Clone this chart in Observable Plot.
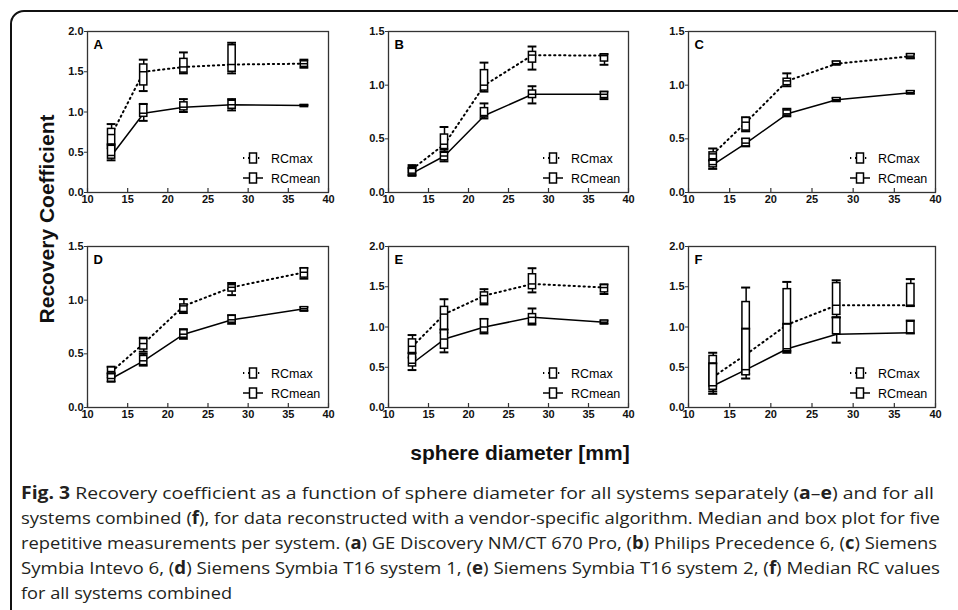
<!DOCTYPE html>
<html><head><meta charset="utf-8">
<script src="https://cdn.jsdelivr.net/npm/d3@7"></script>
<script src="https://cdn.jsdelivr.net/npm/@observablehq/plot@0.6"></script>
<style>
body{margin:0;width:958px;height:610px;overflow:hidden;background:#fff;position:relative;font-family:"Liberation Sans",Arial,sans-serif;}
#border{position:absolute;left:10px;top:10px;width:1000px;height:700px;border:2px solid #111;border-radius:14px;box-sizing:border-box;}
.panel{position:absolute;}
#ytitle{position:absolute;left:47px;top:219px;transform:translate(-50%,-50%) rotate(-90deg);font-weight:bold;font-size:21px;white-space:nowrap;color:#111;}
#xtitle{position:absolute;left:520px;top:453px;transform:translate(-50%,-50%);font-weight:bold;font-size:21px;white-space:nowrap;color:#111;}
#caption{position:absolute;left:0;top:0;}
</style></head><body>
<div id="border"></div>
<div id="charts"></div>
<div id="ytitle">Recovery Coefficient</div>
<div id="xtitle">sphere diameter [mm]</div>
<svg id="caption" width="958" height="610"></svg>
<script>
// ---- data ----
const diameters = [13, 17, 22, 28, 37];
const xTicks = [10, 15, 20, 25, 30, 35, 40];
const yTicks2 = [0, 0.5, 1.0, 1.5, 2.0];
const yTicks15 = [0, 0.5, 1.0, 1.5];
const seriesLabels = ["RCmax", "RCmean"];
const panelLetters = ["A", "B", "C", "D", "E", "F"];
// box stats per diameter: [whiskerLow, q1, median, q3, whiskerHigh]
const A_max  = [[0.55,0.57,0.72,0.79,0.85],[1.26,1.33,1.50,1.59,1.65],[1.48,1.49,1.56,1.66,1.74],[1.48,1.50,1.59,1.83,1.86],[1.55,1.56,1.60,1.63,1.65]];
const A_mean = [[0.40,0.42,0.46,0.58,0.60],[0.89,0.94,0.985,1.09,1.10],[1.00,1.02,1.06,1.12,1.16],[1.02,1.04,1.09,1.14,1.16],[1.07,1.075,1.08,1.085,1.09]];
const B_max  = [[0.165,0.18,0.22,0.235,0.255],[0.38,0.405,0.45,0.54,0.61],[0.94,0.95,1.00,1.14,1.21],[1.145,1.21,1.28,1.31,1.36],[1.19,1.22,1.275,1.285,1.29]];
const B_mean = [[0.155,0.16,0.18,0.22,0.23],[0.29,0.30,0.34,0.37,0.40],[0.69,0.70,0.717,0.786,0.83],[0.83,0.88,0.915,0.95,0.99],[0.87,0.88,0.915,0.935,0.94]];
const C_max  = [[0.30,0.31,0.36,0.374,0.41],[0.57,0.577,0.655,0.695,0.70],[0.99,1.00,1.04,1.06,1.11],[1.19,1.19,1.20,1.22,1.22],[1.25,1.25,1.27,1.29,1.29]];
const C_mean = [[0.22,0.234,0.26,0.296,0.30],[0.43,0.43,0.46,0.50,0.50],[0.71,0.717,0.733,0.764,0.78],[0.85,0.85,0.864,0.88,0.88],[0.92,0.92,0.93,0.945,0.945]];
const D_max  = [[0.28,0.295,0.335,0.373,0.38],[0.52,0.54,0.596,0.637,0.65],[0.88,0.89,0.947,0.96,1.01],[1.047,1.08,1.12,1.14,1.16],[1.20,1.21,1.26,1.295,1.30]];
const D_mean = [[0.24,0.24,0.27,0.31,0.32],[0.39,0.395,0.435,0.48,0.50],[0.64,0.65,0.683,0.72,0.73],[0.78,0.79,0.817,0.854,0.86],[0.90,0.90,0.92,0.935,0.935]];
const E_max  = [[0.62,0.67,0.76,0.846,0.90],[0.93,0.96,1.16,1.25,1.345],[1.28,1.29,1.39,1.43,1.47],[1.43,1.47,1.535,1.655,1.73],[1.41,1.43,1.49,1.52,1.53]];
const E_mean = [[0.465,0.51,0.55,0.66,0.68],[0.685,0.73,0.85,0.96,0.97],[0.92,0.93,1.00,1.095,1.10],[1.03,1.04,1.12,1.16,1.23],[1.04,1.04,1.06,1.08,1.08]];
const F_max  = [[0.20,0.26,0.50,0.64,0.68],[0.42,0.45,0.95,1.31,1.49],[0.70,1.00,1.04,1.47,1.56],[1.12,1.15,1.27,1.545,1.58],[1.26,1.26,1.27,1.535,1.595]];
const F_mean = [[0.17,0.22,0.27,0.54,0.55],[0.36,0.40,0.47,0.97,0.98],[0.68,0.70,0.73,1.03,1.04],[0.805,0.91,0.915,1.11,1.12],[0.92,0.92,0.925,1.066,1.08]];
// connecting lines (medians); panel F uses the combined medians
const F_lineMax  = [0.38, 0.66, 1.03, 1.27, 1.27];
const F_lineMean = [0.27, 0.47, 0.73, 0.91, 0.93];
const captionLines = [
  [["Fig. 3", true], [" Recovery coefficient as a function of sphere diameter for all systems separately (", false], ["a", true], ["–", false], ["e", true], [") and for all", false]],
  [["systems combined (", false], ["f", true], ["), for data reconstructed with a vendor-specific algorithm. Median and box plot for five", false]],
  [["repetitive measurements per system. (", false], ["a", true], [") GE Discovery NM/CT 670 Pro, (", false], ["b", true], [") Philips Precedence 6, (", false], ["c", true], [") Siemens", false]],
  [["Symbia Intevo 6, (", false], ["d", true], [") Siemens Symbia T16 system 1, (", false], ["e", true], [") Siemens Symbia T16 system 2, (", false], ["f", true], [") Median RC values", false]],
  [["for all systems combined", false]]
];

// ---- layout ----
const panels = [
  {letter: panelLetters[0], max: A_max, mean: A_mean, ymax: 2.0, yt: yTicks2, l: 87, t: 31, w: 241, h: 161},
  {letter: panelLetters[1], max: B_max, mean: B_mean, ymax: 1.5, yt: yTicks15, l: 388, t: 31, w: 240, h: 161},
  {letter: panelLetters[2], max: C_max, mean: C_mean, ymax: 1.5, yt: yTicks15, l: 688, t: 31, w: 247, h: 161},
  {letter: panelLetters[3], max: D_max, mean: D_mean, ymax: 1.5, yt: yTicks15, l: 87, t: 246, w: 241, h: 161},
  {letter: panelLetters[4], max: E_max, mean: E_mean, ymax: 2.0, yt: yTicks2, l: 388, t: 246, w: 240, h: 161},
  {letter: panelLetters[5], max: F_max, mean: F_mean, lineMax: F_lineMax, lineMean: F_lineMean, ymax: 2.0, yt: yTicks2, l: 688, t: 246, w: 247, h: 161}
];
const M = {l: 30, r: 6, t: 8, b: 24};
const DOTS = "1.3,3.7";

function toRows(stats) {
  return diameters.map((d, i) => ({x: d, lo: stats[i][0], q1: stats[i][1], med: stats[i][2], q3: stats[i][3], hi: stats[i][4]}));
}
function lineRows(vals) { return diameters.map((d, i) => ({x: d, v: vals[i]})); }

function boxMarks(rows) {
  return [
    Plot.ruleX(rows, {x: "x", y1: "lo", y2: "hi", stroke: "#000", strokeWidth: 1.5}),
    Plot.ruleY(rows, {y: "lo", x1: d => d.x - 0.55, x2: d => d.x + 0.55, stroke: "#000", strokeWidth: 2}),
    Plot.ruleY(rows, {y: "hi", x1: d => d.x - 0.55, x2: d => d.x + 0.55, stroke: "#000", strokeWidth: 2}),
    Plot.rect(rows, {x1: d => d.x - 0.45, x2: d => d.x + 0.45, y1: "q1", y2: "q3", fill: "white", stroke: "#000", strokeWidth: 1.5}),
    Plot.ruleY(rows, {y: "med", x1: d => d.x - 0.45, x2: d => d.x + 0.45, stroke: "#000", strokeWidth: 1.5})
  ];
}

function legendMark(index, scales, values, dim) {
  const g = d3.create("svg:g");
  const right = dim.width - dim.marginRight, bottom = dim.height - dim.marginBottom;
  seriesLabels.forEach((lab, i) => {
    const cy = bottom - 34 + i * 20, cx = right - 75;
    const ln = g.append("line").attr("x1", cx - 10).attr("x2", cx + 10).attr("y1", cy).attr("y2", cy)
      .attr("stroke", "#000").attr("stroke-width", i === 0 ? 2 : 1.5);
    if (i === 0) ln.attr("stroke-dasharray", DOTS).attr("stroke-dashoffset", 0);
    g.append("rect").attr("x", cx - 3.5).attr("y", cy - 5).attr("width", 7).attr("height", 10)
      .attr("fill", "white").attr("stroke", "#000").attr("stroke-width", 1.5);
    g.append("text").attr("x", right - 57).attr("y", cy).attr("dy", "0.36em")
      .attr("text-anchor", "start")
      .attr("font-size", 12.5).attr("font-weight", "normal").attr("fill", "#000").text(lab);
  });
  return g.node();
}

const host = document.getElementById("charts");
panels.forEach(p => {
  const maxRows = toRows(p.max), meanRows = toRows(p.mean);
  const lm = lineRows(p.lineMax || p.max.map(s => s[2]));
  const ln = lineRows(p.lineMean || p.mean.map(s => s[2]));
  const chart = Plot.plot({
    width: p.w + M.l + M.r, height: p.h + M.t + M.b,
    marginLeft: M.l, marginRight: M.r, marginTop: M.t, marginBottom: M.b,
    x: {domain: [10, 40]},
    y: {domain: [0, p.ymax]},
    style: {fontFamily: "'Liberation Sans', Arial, sans-serif", fontSize: "11px", fontWeight: "bold", color: "#111", overflow: "visible", background: "transparent"},
    marks: [
      Plot.axisY({ticks: p.yt, tickSize: 3, tickPadding: 1, tickFormat: d3.format(".1f"), label: null, stroke: "#333"}),
      Plot.axisX({ticks: xTicks, tickSize: 0, tickPadding: 3, label: null}),
      Plot.tickX(xTicks, {x: d => d, insetTop: p.h - 4, stroke: "#333", strokeWidth: 1.2}),
      Plot.line(lm, {x: "x", y: "v", stroke: "#000", strokeWidth: 2, strokeDasharray: DOTS}),
      Plot.line(ln, {x: "x", y: "v", stroke: "#000", strokeWidth: 1.5}),
      ...boxMarks(maxRows),
      ...boxMarks(meanRows),
      Plot.frame({stroke: "#333", strokeWidth: 1.3}),
      Plot.text([p.letter], {text: d => d, frameAnchor: "top-left", dx: 6, dy: 8, textAnchor: "start", lineAnchor: "top", fontSize: 13, fontWeight: "bold", fill: "#000"}),
      legendMark
    ]
  });
  const div = document.createElement("div");
  div.className = "panel";
  div.style.left = (p.l - M.l) + "px";
  div.style.top = (p.t - M.t) + "px";
  div.appendChild(chart);
  host.appendChild(div);
});

// ---- caption ----
const cap = d3.select("#caption");
const capEnds = [934, 940, 937, 940, 232];
captionLines.forEach((parts, i) => {
  const t = cap.append("text").attr("x", 21).attr("y", 499 + i * 25)
    .attr("font-family", "'Open Sans', sans-serif").attr("font-size", 17).attr("fill", "#231f20")
    .attr("textLength", capEnds[i] - 21).attr("lengthAdjust", "spacingAndGlyphs");
  parts.forEach(([s, b]) => t.append("tspan").attr("font-weight", b ? "bold" : "normal").text(s));
});
</script>
</body></html>
